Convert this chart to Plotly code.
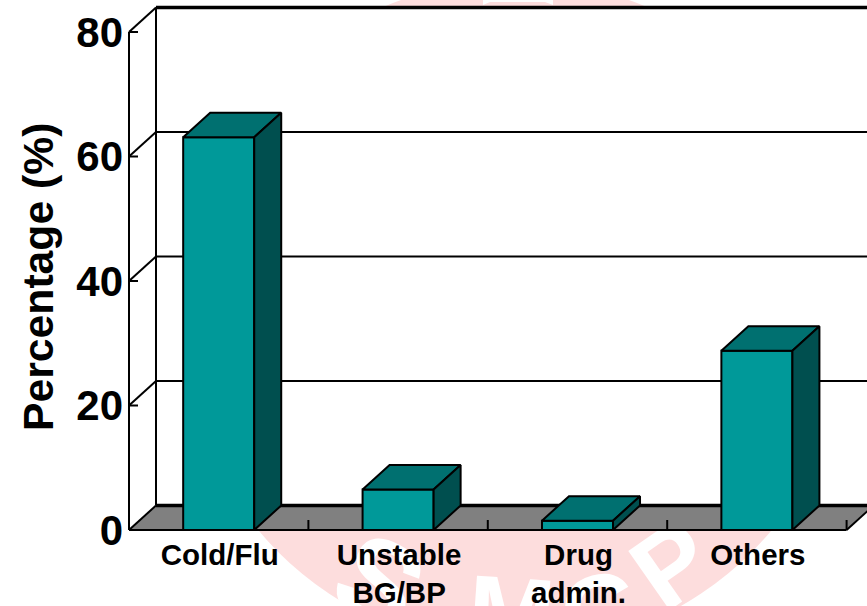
import plotly.graph_objects as go

# Chart data
categories = ["Cold/Flu", "Unstable<br>BG/BP", "Drug<br>admin.", "Others"]
percentages = [63.1, 6.5, 1.5, 28.8]
y_ticks = [0, 20, 40, 60, 80]

# Colours
FRONT = "#009999"
TOP = "#007070"
SIDE = "#004F4F"
FLOOR = "#808080"
INK = "#000000"
PINK = "#FDDDDD"

FONT = "Liberation Sans"

# Figure layout, in pixels
WIDTH, HEIGHT = 867, 606
PLOT_L, PLOT_B = 124, 536
ORIGIN_X, ORIGIN_Y = 129, 530
CAT_PX = 179.4
UNIT_PX = 6.225

# Oblique depth of the box, in axis units
DX = 27 / CAT_PX
DY = 24.5 / UNIT_PX
BAR_W = 0.396

X_MIN = -(ORIGIN_X - PLOT_L) / CAT_PX
X_MAX = (WIDTH - ORIGIN_X) / CAT_PX
Y_MIN = -(PLOT_B - ORIGIN_Y) / UNIT_PX
Y_MAX = ORIGIN_Y / UNIT_PX
N = len(categories)
centers = [i + 0.5 for i in range(N)]


def px_x(p):
    return (p - PLOT_L) / (WIDTH - PLOT_L)


def px_y(p):
    return (PLOT_B - p) / PLOT_B


def segment(x0, y0, x1, y1, width=2):
    return dict(type="line", layer="below", xref="x", yref="y", x0=x0, y0=y0, x1=x1, y1=y1,
                line=dict(color=INK, width=width))


def poly_path(points):
    return "M " + " L ".join(f"{a},{b}" for a, b in points) + " Z"


def logo_letter(char, cx, cy, angle, size=105):
    return dict(type="rect", layer="below", xref="paper", yref="paper",
                x0=px_x(cx - 60), x1=px_x(cx + 60), y0=px_y(cy + 70), y1=px_y(cy - 70),
                line=dict(width=0), fillcolor="rgba(0,0,0,0)",
                label=dict(text=char, textangle=angle, textposition="middle center",
                           font=dict(family=FONT, size=size, color="#FFFFFF", weight=700)))


shapes = [
    # Society emblem behind the chart
    dict(type="circle", layer="below", xref="paper", yref="paper",
         x0=px_x(515 - 335), x1=px_x(515 + 335), y0=px_y(315 + 335), y1=px_y(315 - 335),
         fillcolor=PINK, line=dict(width=0)),
    logo_letter("S", 385, 572, 28, 120),
    logo_letter("M", 512, 604, 4),
    logo_letter("C", 597, 602, -15),
    logo_letter("P", 666, 556, -35),
    dict(type="path", layer="below", xref="paper", yref="paper",
         path=poly_path([(px_x(483), px_y(-1)), (px_x(553), px_y(-1)), (px_x(553), px_y(5)),
                         (px_x(545), px_y(2)), (px_x(490), px_y(2)), (px_x(483), px_y(5))]),
         fillcolor="#FFFFFF", line=dict(width=0)),
    # White chart walls
    dict(type="path", layer="below", xref="x", yref="y",
         path=poly_path([(0, 0), (0, y_ticks[-1]), (DX, y_ticks[-1] + DY), (X_MAX, y_ticks[-1] + DY), (X_MAX, 0)]),
         fillcolor="#FFFFFF", line=dict(width=0)),
    # Floor
    dict(type="path", layer="below", xref="x", yref="y",
         path=poly_path([(0, 0), (DX, DY), (N + DX, DY), (N, 0)]),
         fillcolor=FLOOR, line=dict(width=0)),
]

# Back-wall gridlines, side-wall diagonals and value ticks
for t in y_ticks:
    heavy = t in (y_ticks[0], y_ticks[-1])
    shapes.append(segment(DX, t + DY, X_MAX, t + DY, 3.5 if heavy else 2))
    shapes.append(segment(0, t, DX, t + DY))
    shapes.append(segment(0, t, 9 / CAT_PX, t))

# Wall edges and floor front edge
shapes.append(segment(0, 0, 0, y_ticks[-1]))
shapes.append(segment(DX, DY, DX, y_ticks[-1] + DY))
shapes.append(segment(0, 0, N, 0))
shapes.append(segment(N, 0, N + DX, DY))

# Category ticks on the floor
for i in range(1, N + 1):
    shapes.append(segment(i, 0, i, 10 / UNIT_PX))

fig = go.Figure()

# Front faces of the columns
fig.add_trace(go.Bar(x=centers, y=percentages, width=BAR_W, marker=dict(color=FRONT, line=dict(color=INK, width=2)),
                     showlegend=False, hoverinfo="skip"))

# Top and side faces in oblique projection
for c, v in zip(centers, percentages):
    left, right = c - BAR_W / 2, c + BAR_W / 2
    fig.add_trace(go.Scatter(x=[left, left + DX, right + DX, right, left],
                             y=[v, v + DY, v + DY, v, v],
                             mode="lines", fill="toself", fillcolor=TOP,
                             line=dict(color=INK, width=2), showlegend=False, hoverinfo="skip"))
    fig.add_trace(go.Scatter(x=[right, right + DX, right + DX, right, right],
                             y=[0, DY, v + DY, v, 0],
                             mode="lines", fill="toself", fillcolor=SIDE,
                             line=dict(color=INK, width=2), showlegend=False, hoverinfo="skip"))

fig.update_layout(
    width=WIDTH, height=HEIGHT, autosize=False,
    margin=dict(l=PLOT_L, r=0, t=0, b=HEIGHT - PLOT_B, autoexpand=False),
    paper_bgcolor="#FFFFFF", plot_bgcolor="rgba(0,0,0,0)",
    showlegend=False, shapes=shapes,
    font=dict(family=FONT, color=INK),
    xaxis=dict(range=[X_MIN, X_MAX], tickmode="array", tickvals=centers, ticktext=categories,
               showgrid=False, zeroline=False, showline=False, ticks="",
               ticklabelstandoff=-2, ticklabelshift=1,
               tickfont=dict(family=FONT, size=29.5, color=INK, weight=700)),
    yaxis=dict(range=[Y_MIN, Y_MAX], tickmode="array", tickvals=y_ticks, ticktext=[str(t) for t in y_ticks],
               showgrid=False, zeroline=False, showline=False, ticks="",
               tickfont=dict(family=FONT, size=42, color=INK, weight=700)),
    annotations=[dict(text="Percentage (%)", textangle=-90, showarrow=False,
                      xref="paper", yref="paper", x=px_x(38), y=px_y(277),
                      xanchor="center", yanchor="middle",
                      font=dict(family=FONT, size=42.7, color=INK, weight=700))],
)

fig.write_html("out.html")
